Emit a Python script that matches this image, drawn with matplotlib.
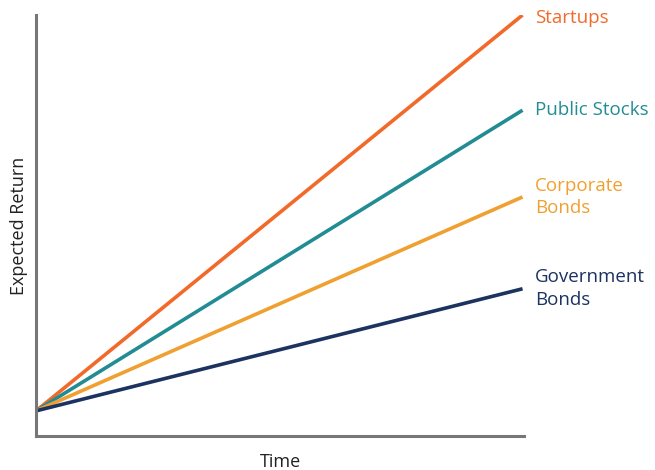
import matplotlib.pyplot as plt

plt.rcParams['font.family'] = ['Open Sans', 'DejaVu Sans']

# expected return over time for each asset class (arbitrary units)
names = ['Startups', 'Public Stocks', 'Corporate\nBonds', 'Government\nBonds']
start = 6.0
end = [100.0, 77.4, 56.8, 35.0]
colors = ['#F26A2A', '#228C94', '#F0A030', '#1C3260']
x = [0, 1]

fig = plt.figure(figsize=(6.55, 4.7), dpi=100)
ax = fig.add_axes([0.055, 0.072, 0.745, 0.896])

for name, e, c in zip(names, end, colors):
    ax.plot(x, [start, e], color=c, lw=2.6, solid_capstyle='butt')
    # keep the top label from touching the figure edge
    ax.text(1.025, min(e, 99.2), name, color=c, fontsize=13.5, va='center',
            ha='left', linespacing=1.35)

ax.set_xlim(0, 1.003)
ax.set_ylim(0, 100)
ax.set_xticks([])
ax.set_yticks([])
for side in ['top', 'right']:
    ax.spines[side].set_visible(False)
for side in ['left', 'bottom']:
    ax.spines[side].set_color('#777777')
    ax.spines[side].set_linewidth(2.2)

ax.set_xlabel('Time', fontsize=13, color='#222222', labelpad=12)
ax.set_ylabel('Expected Return', fontsize=13, color='#222222', labelpad=6)

fig.savefig('out.png', dpi=100)
